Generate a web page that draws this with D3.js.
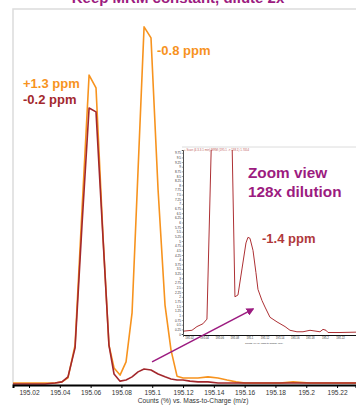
<!DOCTYPE html>
<html>
<head>
<meta charset="utf-8">
<script src="https://cdn.jsdelivr.net/npm/d3@7"></script>
<style>
  body { margin: 0; background: #fff; }
  svg { display: block; font-family: "Liberation Sans", Arial, sans-serif; }
</style>
</head>
<body>
<svg id="chart" width="356" height="407"></svg>
<script>
// main view: 2x dilution overlay (orange) and zoomed trace (dark red)
const mainMz = [195.0096, 195.0206, 195.0304, 195.0369, 195.0414, 195.0453, 195.0499, 195.0544, 195.059, 195.0635,
  195.0681, 195.0719, 195.0752, 195.0791, 195.083, 195.0869, 195.0908, 195.0947, 195.0992, 195.1038,
  195.1083, 195.1122, 195.1161, 195.12, 195.1245, 195.1297, 195.1362, 195.1427, 195.1486, 195.1544,
  195.1603, 195.17, 195.183, 195.1914, 195.2025, 195.2155, 195.2323];
const orangeCounts = [0.3, 0.3, 0.3, 0.3, 0.6, 1.7, 10.9, 48.7, 86.5, 82.9,
  40.9, 10.9, 4.5, 2.5, 6.2, 19.9, 59.9, 100, 96.9, 54.3,
  22.1, 9.5, 2.2, 1.7, 1.7, 1.7, 2.0, 1.7, 1.1, 0.6,
  0.3, 0.3, 0.3, 0.6, 0.3, 0.3, 0.3];
const darkRedCounts = [0, 0, 0, 0.3, 0.6, 2.0, 10.1, 44.5, 77.3, 76.2,
  40.3, 10.9, 2.8, 0.8, 1.1, 2.0, 3.4, 4.2, 3.9, 2.8,
  2.0, 1.4, 1.1, 1.1, 0.8, 0.6, 0.6, 0.3, 0.3, 0.3,
  0.3, 0.3, 0.3, 0.3, 0.3, 0.3, 0.3];

// inset: 128x dilution zoom
const insetMz = [195.0121, 195.024, 195.0306, 195.0385, 195.0438, 195.0544, 195.0584, 195.0637, 195.0677, 195.0717,
  195.0809, 195.0849, 195.0902, 195.0955, 195.0981, 195.1008, 195.1048, 195.1087, 195.1114, 195.1167,
  195.1207, 195.1273, 195.1366, 195.1472, 195.1538, 195.163, 195.171, 195.1803, 195.1935, 195.1975,
  195.2015, 195.2041, 195.22, 195.2412];
const insetCounts = [0.15, 0.2, 0.4, 0.55, 0.8, 18, 100, 97, 55, 22,
  2.0, 2.1, 3.5, 4.9, 5.2, 5.15, 4.5, 3.3, 2.4, 1.8,
  1.45, 0.9, 0.65, 0.4, 0.2, 0.12, 0.12, 0.2, 0.12, 0.25,
  0.2, 0.08, 0.08, 0.1];

const xTicks = [195.02, 195.04, 195.06, 195.08, 195.1, 195.12, 195.14, 195.16, 195.18, 195.2, 195.22];
const insetYTicks = d3.range(0, 9.76, 0.25);

const ORANGE = "#f7931e";
const DARKRED = "#a3282d";
const PURPLE = "#9c1b80";

const svg = d3.select("#chart");

// ---- main plot ----
const x = d3.scaleLinear().domain([195.0096, 195.2323]).range([13, 356]);
const y = d3.scaleLinear().domain([0, 105]).range([384, 9]);

// title sits mostly above the visible area, as in the source slide
svg.append("text")
  .attr("x", 178).attr("y", 3)
  .attr("text-anchor", "middle")
  .attr("font-size", 15).attr("font-weight", "bold")
  .attr("fill", PURPLE)
  .text("Keep MRM constant, dilute 2x");

// frame
svg.append("path")
  .attr("d", "M13,385V9H356")
  .attr("fill", "none").attr("stroke", "#dcdcdc").attr("stroke-width", 1.5);

svg.append("clipPath").attr("id", "mainClip")
  .append("rect").attr("x", 13).attr("y", 9).attr("width", 343).attr("height", 376);

const mainLine = vals => d3.line()
  .x((d, i) => x(mainMz[i]))
  .y(d => y(d))(vals);

const mainG = svg.append("g").attr("clip-path", "url(#mainClip)");
mainG.append("path").attr("d", mainLine(orangeCounts))
  .attr("fill", "none").attr("stroke", ORANGE).attr("stroke-width", 1.6).attr("stroke-linejoin", "round");
mainG.append("path").attr("d", mainLine(darkRedCounts))
  .attr("fill", "none").attr("stroke", DARKRED).attr("stroke-width", 1.6).attr("stroke-linejoin", "round");

const xAxis = svg.append("g")
  .attr("transform", "translate(0,385)")
  .call(d3.axisBottom(x).tickValues(xTicks).tickSize(3).tickPadding(2).tickFormat(d3.format("")));
xAxis.select(".domain").attr("stroke", "#000").attr("stroke-width", 2);
xAxis.selectAll(".tick line").attr("stroke", "#000");
xAxis.selectAll(".tick text").attr("font-size", 6.6).attr("fill", "#333")
  .attr("font-family", "Liberation Sans, Arial, sans-serif");

svg.append("text")
  .attr("x", 193).attr("y", 403)
  .attr("text-anchor", "middle").attr("font-size", 6.7).attr("fill", "#333")
  .text("Counts (%) vs. Mass-to-Charge (m/z)");

// ---- inset ----
const ix = d3.scaleLinear().domain([195.0121, 195.2412]).range([183, 356]);
const iy = d3.scaleLinear().domain([0, 9.9]).range([334, 150]);

svg.append("rect").attr("x", 182).attr("y", 147).attr("width", 174).attr("height", 199).attr("fill", "#fff");
svg.append("path")
  .attr("d", "M182,147H356")
  .attr("fill", "none").attr("stroke", "#dcdcdc").attr("stroke-width", 1);
svg.append("text")
  .attr("x", 184).attr("y", 151.3)
  .attr("font-size", 2.9).attr("fill", "#c05a5a")
  .text("+ Scan (4.3-3.1 min) MRM (195.1 -> 138.1) 1.7054");

svg.append("clipPath").attr("id", "insetClip")
  .append("rect").attr("x", 183).attr("y", 150).attr("width", 173).attr("height", 185);

svg.append("g").attr("clip-path", "url(#insetClip)")
  .append("path")
  .attr("d", d3.line().x((d, i) => ix(insetMz[i])).y(d => iy(d))(insetCounts))
  .attr("fill", "none").attr("stroke", "#ad3034").attr("stroke-width", 1).attr("stroke-linejoin", "round");

const iyAxis = svg.append("g")
  .attr("transform", "translate(183,0)")
  .call(d3.axisLeft(iy).tickValues(insetYTicks).tickSize(1.2).tickPadding(0.8).tickFormat(d3.format("")));
iyAxis.select(".domain").attr("stroke", "#222").attr("stroke-width", 0.8);
iyAxis.selectAll(".tick line").attr("stroke", "#444").attr("stroke-width", 0.5);
iyAxis.selectAll(".tick text").attr("font-size", 3.1).attr("fill", "#333");

const ixAxis = svg.append("g")
  .attr("transform", "translate(0,335)")
  .call(d3.axisBottom(ix).tickValues(xTicks).tickSize(1.5).tickPadding(0.8).tickFormat(d3.format("")));
ixAxis.select(".domain").attr("stroke", "#111").attr("stroke-width", 1);
ixAxis.selectAll(".tick line").attr("stroke", "#333").attr("stroke-width", 0.5);
ixAxis.selectAll(".tick text").attr("font-size", 2.8).attr("fill", "#333");

svg.append("text")
  .attr("x", 264).attr("y", 343.5)
  .attr("text-anchor", "middle").attr("font-size", 2.3).attr("fill", "#333")
  .text("Counts (%) vs. Mass-to-Charge (m/z)");

// ---- annotations ----
const label = (tx, ty, size, color, str) => svg.append("text")
  .attr("x", tx).attr("y", ty)
  .attr("font-size", size).attr("font-weight", "bold").attr("fill", color)
  .text(str);

label(23, 88, 13, ORANGE, "+1.3 ppm");
label(23, 104, 13, DARKRED, "-0.2 ppm");
label(157, 55, 13, ORANGE, "-0.8 ppm");
label(248, 178, 15.3, PURPLE, "Zoom view");
label(248, 197, 15.3, PURPLE, "128x dilution");
label(262, 243, 13, "#b0383a", "-1.4 ppm");

svg.append("defs").append("marker")
  .attr("id", "arrowHead")
  .attr("viewBox", "0 0 10 10")
  .attr("refX", 8).attr("refY", 5)
  .attr("markerWidth", 5).attr("markerHeight", 5)
  .attr("orient", "auto")
  .append("path").attr("d", "M0,0L10,5L0,10Z").attr("fill", PURPLE);

svg.append("line")
  .attr("x1", x(195.0999)).attr("y1", y(6.2))
  .attr("x2", ix(195.1048)).attr("y2", iy(1.34))
  .attr("stroke", PURPLE).attr("stroke-width", 1.6)
  .attr("marker-end", "url(#arrowHead)");
</script>
</body>
</html>
